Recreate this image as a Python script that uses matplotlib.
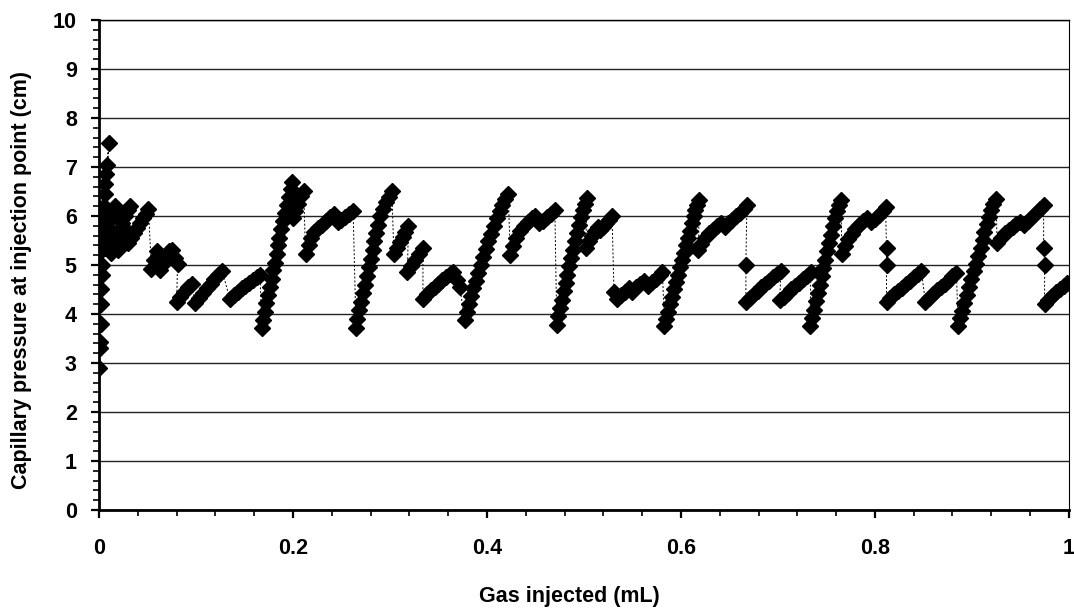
import matplotlib.pyplot as plt
from matplotlib.ticker import MultipleLocator
import numpy as np

# pressure record, split into the pieces it was logged in (x in mL, y in cm)
start_x = [0.000, 0.001, 0.001, 0.002, 0.002, 0.002, 0.003, 0.003, 0.003, 0.004,
           0.004, 0.005, 0.005, 0.006, 0.006, 0.007, 0.008, 0.010]
start_y = [2.90, 3.30, 3.42, 3.80, 4.20, 4.50, 4.80, 5.00, 5.30, 5.55,
           5.80, 6.00, 6.20, 6.45, 6.65, 6.85, 7.05, 7.48]

cluster_x = [0.006, 0.008, 0.010, 0.012, 0.014, 0.016,
             0.012, 0.015, 0.018, 0.021, 0.024, 0.027, 0.030, 0.032,
             0.020, 0.023, 0.026, 0.029,
             0.030, 0.033, 0.036, 0.039, 0.042, 0.045, 0.048, 0.051]
cluster_y = [5.35, 5.55, 5.75, 5.95, 6.10, 6.20,
             5.25, 5.40, 5.55, 5.70, 5.85, 6.00, 6.12, 6.20,
             5.30, 5.42, 5.55, 5.70,
             5.45, 5.55, 5.65, 5.75, 5.85, 5.95, 6.05, 6.15]

blob_x = [0.054, 0.057, 0.060, 0.063, 0.066, 0.069, 0.072, 0.075, 0.078, 0.081]
blob_y = [4.92, 5.10, 5.28, 4.90, 5.02, 5.15, 5.28, 5.30, 5.15, 5.02]

low1_x = [0.080, 0.084, 0.088, 0.092, 0.096,
          0.099, 0.103, 0.107, 0.111, 0.115, 0.119, 0.123, 0.127,
          0.135, 0.139, 0.143, 0.147, 0.151, 0.155, 0.159, 0.163, 0.166]
low1_y = [4.25, 4.35, 4.45, 4.55, 4.62,
          4.22, 4.32, 4.42, 4.52, 4.62, 4.72, 4.80, 4.88,
          4.30, 4.38, 4.45, 4.52, 4.58, 4.64, 4.70, 4.76, 4.80]

rise1_x = [0.168, 0.169, 0.171, 0.172, 0.174, 0.176, 0.178, 0.179, 0.181, 0.183,
           0.185, 0.186, 0.188, 0.190, 0.192, 0.194, 0.196, 0.198, 0.199,
           0.200, 0.202, 0.205, 0.208, 0.211]
rise1_y = [3.72, 3.88, 4.05, 4.22, 4.38, 4.55, 4.72, 4.90, 5.05, 5.22,
           5.40, 5.56, 5.74, 5.90, 6.06, 6.22, 6.38, 6.55, 6.70,
           5.95, 6.10, 6.25, 6.40, 6.50]

high1_x = [0.213, 0.216, 0.219, 0.222, 0.226, 0.230, 0.234, 0.238, 0.242, 0.246,
           0.250, 0.254, 0.258, 0.262]
high1_y = [5.22, 5.40, 5.55, 5.68, 5.76, 5.82, 5.90, 5.98, 6.05, 5.88,
           5.92, 5.98, 6.04, 6.10]

rise2_x = [0.265, 0.266, 0.268, 0.270, 0.272, 0.274, 0.276, 0.278, 0.280, 0.282,
           0.284, 0.286, 0.288, 0.290, 0.293, 0.296, 0.299, 0.302]
rise2_y = [3.72, 3.90, 4.08, 4.25, 4.42, 4.60, 4.78, 4.95, 5.12, 5.30,
           5.48, 5.65, 5.82, 6.00, 6.15, 6.28, 6.38, 6.50]

high2_x = [0.304, 0.307, 0.310, 0.313, 0.316, 0.319,
           0.318, 0.322, 0.326, 0.330, 0.334]
high2_y = [5.22, 5.34, 5.46, 5.58, 5.68, 5.80,
           4.86, 4.98, 5.10, 5.22, 5.34]

low2_x = [0.334, 0.338, 0.342, 0.346, 0.350, 0.354, 0.358, 0.362, 0.365, 0.369, 0.372]
low2_y = [4.30, 4.40, 4.48, 4.55, 4.62, 4.70, 4.76, 4.82, 4.86, 4.70, 4.55]

rise3_x = [0.377, 0.379, 0.381, 0.384, 0.386, 0.389, 0.391, 0.394, 0.396, 0.399,
           0.401, 0.404, 0.407, 0.410, 0.413, 0.416, 0.419, 0.422]
rise3_y = [3.88, 4.04, 4.20, 4.36, 4.52, 4.68, 4.84, 5.00, 5.16, 5.32,
           5.48, 5.64, 5.80, 5.96, 6.10, 6.22, 6.34, 6.45]

high3_x = [0.424, 0.427, 0.430, 0.434, 0.438, 0.442, 0.446, 0.450, 0.454, 0.458,
           0.462, 0.466, 0.470]
high3_y = [5.20, 5.38, 5.55, 5.70, 5.80, 5.88, 5.95, 6.00, 5.85, 5.90,
           5.98, 6.05, 6.12]

rise4_x = [0.472, 0.473, 0.475, 0.477, 0.479, 0.481, 0.483, 0.485, 0.487, 0.489,
           0.491, 0.493, 0.495, 0.497, 0.499, 0.501, 0.503]
rise4_y = [3.78, 3.95, 4.12, 4.29, 4.46, 4.63, 4.80, 4.97, 5.14, 5.31,
           5.48, 5.65, 5.82, 5.98, 6.12, 6.25, 6.36]

high4_x = [0.502, 0.505, 0.508, 0.511, 0.514, 0.517, 0.520, 0.523, 0.526, 0.529]
high4_y = [5.35, 5.48, 5.60, 5.70, 5.78, 5.72, 5.78, 5.85, 5.92, 5.99]

low4_x = [0.531, 0.534, 0.538, 0.542, 0.546, 0.550, 0.554, 0.558, 0.562, 0.566,
          0.570, 0.574, 0.578, 0.581]
low4_y = [4.45, 4.30, 4.38, 4.45, 4.52, 4.45, 4.55, 4.62, 4.68, 4.58,
          4.65, 4.72, 4.80, 4.85]

rise5_x = [0.583, 0.585, 0.587, 0.589, 0.591, 0.593, 0.595, 0.597, 0.599, 0.601,
           0.603, 0.605, 0.607, 0.609, 0.611, 0.613, 0.615, 0.617, 0.619]
rise5_y = [3.75, 3.90, 4.05, 4.20, 4.35, 4.50, 4.65, 4.80, 4.95, 5.10,
           5.25, 5.40, 5.55, 5.70, 5.85, 6.00, 6.12, 6.22, 6.33]

high5_x = [0.618, 0.621, 0.625, 0.629, 0.633, 0.637, 0.641, 0.645, 0.649, 0.653,
           0.657, 0.661, 0.665, 0.668, 0.667]
high5_y = [5.30, 5.42, 5.55, 5.65, 5.72, 5.80, 5.86, 5.78, 5.85, 5.92,
           6.00, 6.07, 6.14, 6.22, 5.00]

low5_x = [0.667, 0.671, 0.675, 0.679, 0.683, 0.687, 0.691, 0.695, 0.699, 0.703,
          0.702, 0.706, 0.710, 0.714, 0.718, 0.722, 0.726, 0.730, 0.734]
low5_y = [4.25, 4.32, 4.40, 4.47, 4.55, 4.62, 4.68, 4.75, 4.82, 4.88,
          4.28, 4.35, 4.42, 4.50, 4.57, 4.64, 4.71, 4.78, 4.85]

rise6_x = [0.733, 0.735, 0.737, 0.739, 0.741, 0.743, 0.745, 0.747, 0.749, 0.751,
           0.753, 0.755, 0.757, 0.759, 0.761, 0.763, 0.765]
rise6_y = [3.75, 3.92, 4.09, 4.26, 4.43, 4.60, 4.77, 4.94, 5.11, 5.28,
           5.45, 5.62, 5.79, 5.96, 6.10, 6.22, 6.33]

high6_x = [0.766, 0.769, 0.772, 0.776, 0.780, 0.784, 0.788, 0.792, 0.796, 0.800,
           0.804, 0.808, 0.811, 0.812, 0.812]
high6_y = [5.22, 5.38, 5.52, 5.64, 5.74, 5.82, 5.90, 5.96, 5.88, 5.94,
           6.02, 6.10, 6.18, 5.35, 5.00]

low6_x = [0.812, 0.816, 0.820, 0.824, 0.828, 0.832, 0.836, 0.840, 0.844, 0.848,
          0.852, 0.856, 0.860, 0.864, 0.868, 0.872, 0.876, 0.880, 0.884]
low6_y = [4.25, 4.32, 4.40, 4.47, 4.54, 4.61, 4.68, 4.75, 4.82, 4.88,
          4.25, 4.33, 4.40, 4.48, 4.55, 4.62, 4.70, 4.77, 4.84]

rise7_x = [0.886, 0.888, 0.890, 0.892, 0.895, 0.897, 0.899, 0.902, 0.904, 0.906,
           0.909, 0.911, 0.913, 0.916, 0.918, 0.920, 0.922, 0.925]
rise7_y = [3.75, 3.91, 4.07, 4.23, 4.39, 4.55, 4.71, 4.87, 5.03, 5.19,
           5.35, 5.51, 5.67, 5.83, 5.98, 6.12, 6.24, 6.35]

high7_x = [0.926, 0.930, 0.934, 0.938, 0.942, 0.946, 0.950, 0.954, 0.958, 0.962,
           0.966, 0.970, 0.974, 0.974, 0.975]
high7_y = [5.45, 5.56, 5.65, 5.72, 5.78, 5.84, 5.88, 5.82, 5.90, 5.98,
           6.06, 6.14, 6.22, 5.35, 5.00]

low7_x = [0.975, 0.979, 0.983, 0.987, 0.991, 0.995, 0.998]
low7_y = [4.20, 4.28, 4.36, 4.44, 4.51, 4.58, 4.64]

gas = np.concatenate([start_x, cluster_x, blob_x, low1_x, rise1_x, high1_x,
                      rise2_x, high2_x, low2_x, rise3_x, high3_x, rise4_x,
                      high4_x, low4_x, rise5_x, high5_x, low5_x, rise6_x,
                      high6_x, low6_x, rise7_x, high7_x, low7_x])
pc = np.concatenate([start_y, cluster_y, blob_y, low1_y, rise1_y, high1_y,
                     rise2_y, high2_y, low2_y, rise3_y, high3_y, rise4_y,
                     high4_y, low4_y, rise5_y, high5_y, low5_y, rise6_y,
                     high6_y, low6_y, rise7_y, high7_y, low7_y])

plt.rcParams['font.family'] = ['Liberation Sans', 'DejaVu Sans']
plt.rcParams['font.weight'] = 'bold'

fig = plt.figure(figsize=(10.74, 6.09), dpi=100)
ax = fig.add_axes([0.0922, 0.1626, 0.903, 0.8046])

ax.plot(gas, pc, color='black', linestyle=(0, (2, 2)), linewidth=0.7,
        marker='D', markersize=8.3, markerfacecolor='black',
        markeredgecolor='black', zorder=3)

ax.set_xlim(0, 1)
ax.set_ylim(0, 10)
ax.xaxis.set_major_locator(MultipleLocator(0.2))
ax.xaxis.set_minor_locator(MultipleLocator(0.04))
ax.yaxis.set_major_locator(MultipleLocator(1))
ax.yaxis.set_minor_locator(MultipleLocator(0.2))
ax.set_xticks([0, 0.2, 0.4, 0.6, 0.8, 1.0])
ax.set_xticklabels(['0', '0.2', '0.4', '0.6', '0.8', '1'])

ax.grid(axis='y', which='major', color='#222222', linewidth=1.0, zorder=0)
ax.set_axisbelow(True)

for side in ['left', 'bottom']:
    ax.spines[side].set_linewidth(2.0)
ax.spines['top'].set_linewidth(1.0)
ax.spines['right'].set_linewidth(0.8)

ax.tick_params(which='major', direction='out', length=6, width=1.6,
               labelsize=15.5, color='black')
ax.tick_params(which='minor', direction='out', length=4, width=1.2)
ax.tick_params(axis='x', which='major', pad=14)
ax.tick_params(axis='y', which='major', pad=10)

ax.set_xlabel('Gas injected (mL)', fontsize=15.5, fontweight='bold')
ax.set_ylabel('Capillary pressure at injection point (cm)', fontsize=15.5,
              fontweight='bold')
ax.xaxis.set_label_coords(0.485, -0.155)
ax.yaxis.set_label_coords(-0.069, 0.469)

fig.savefig('out.png', dpi=100)
